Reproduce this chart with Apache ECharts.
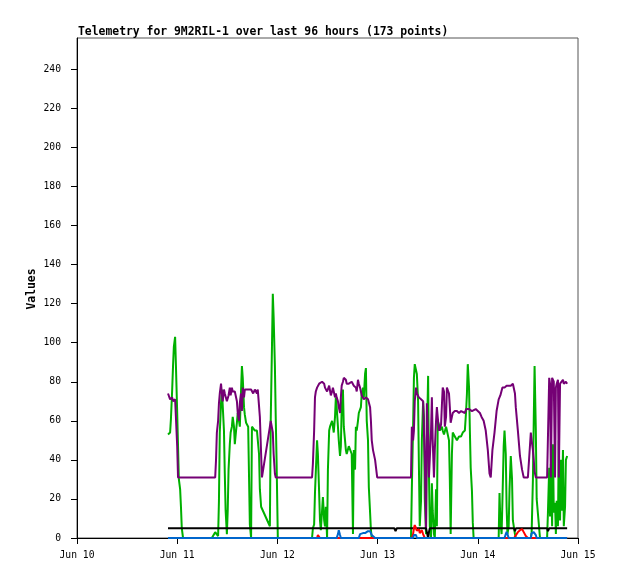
<!DOCTYPE html>
<html><head><meta charset="utf-8">
<script src="https://cdn.jsdelivr.net/npm/echarts@6/dist/echarts.min.js"></script>
<style>html,body{margin:0;padding:0;background:#fff}#c{width:618px;height:579px}</style>
</head><body><div id="c"></div>
<script>
// hours since Jun 10 00:00
const times = [21.8,22.3,22.5,22.8,23.0,23.2,23.5,23.7,24.0,24.2,24.4,24.7,24.9,25.1,25.4,26.6,27.8,29.0,30.2,31.4,32.3,33.1,33.3,33.5,33.8,34.0,34.2,34.5,34.7,34.9,35.2,35.4,35.6,35.9,36.1,36.3,36.6,36.8,37.1,37.3,37.6,37.8,38.1,38.3,38.5,38.8,39.0,39.3,39.5,39.7,40.0,40.2,40.5,41.0,41.4,41.7,41.9,42.2,42.6,43.1,43.3,43.6,43.8,44.1,44.3,46.2,46.4,46.7,46.9,47.1,47.4,47.6,47.8,48.1,49.6,50.8,52.0,53.2,54.4,55.6,56.3,56.5,56.8,57.0,57.2,57.5,57.7,58.0,58.2,58.4,58.7,58.9,59.2,59.4,59.6,59.9,60.1,60.4,60.6,60.8,61.1,61.3,61.5,61.8,62.0,62.2,62.5,62.7,63.0,63.2,63.4,63.7,63.9,64.2,64.4,64.6,64.9,65.1,65.4,65.8,66.1,66.3,66.6,66.8,67.0,67.3,67.5,67.8,68.0,68.2,68.5,68.7,69.0,69.2,69.4,69.7,69.9,70.2,70.4,70.6,70.9,71.4,71.9,73.0,74.2,75.4,76.6,77.8,79.0,80.0,80.2,80.5,80.7,80.9,81.2,81.4,81.7,81.9,82.1,82.4,82.6,82.9,83.1,83.3,83.6,83.8,84.1,84.3,84.5,84.8,85.0,85.2,85.5,85.7,86.0,86.2,86.4,86.7,86.9,87.2,87.4,87.6,87.9,88.1,88.4,88.6,88.8,89.1,89.3,89.5,89.8,90.0,90.5,91.0,91.5,92.0,92.4,92.9,93.2,93.4,93.6,93.9,94.1,94.3,94.6,94.8,95.0,95.5,96.0,96.5,96.9,97.4,97.9,98.4,98.8,99.1,99.5,100.0,100.5,101.0,101.2,101.4,101.7,101.9,102.2,102.4,102.7,102.9,103.1,103.4,103.6,103.9,104.2,104.4,104.9,105.1,105.6,106.1,106.6,107.0,108.0,108.4,108.7,108.9,109.2,109.4,109.6,109.9,110.1,110.9,112.1,112.6,112.8,113.1,113.3,113.5,113.8,114.0,114.2,114.5,114.7,114.9,115.2,115.4,115.7,115.9,116.1,116.4,116.6,116.9,117.1,117.4];
const purple = [74,71,72,72,70,70,71,71,47,31,31,31,31,31,31,31,31,31,31,31,31,31,40,54,60,69,74,79,74,70,76,74,73,70,69,73,77,73,77,75,74,75,76,70,64,60,69,74,65,77,72,76,76,76,76,76,76,74,76,74,76,76,62,43,31,57,60,61,54,43,33,31,31,31,31,31,31,31,31,31,31,38,55,72,75,77,78,79,79,79,80,80,79,77,76,75,76,78,77,73,75,77,75,72,74,72,70,67,64,72,78,80,82,81,81,79,78,79,80,80,79,78,78,77,75,81,79,77,75,73,73,71,71,72,72,71,70,67,60,50,45,40,31,31,31,31,31,31,31,31,57,50,55,70,77,74,74,72,71,71,71,70,71,40,4,69,52,31,31,55,72,50,31,45,60,67,62,55,55,58,68,77,75,57,62,77,76,74,67,59,62,64,65,65,64,65,65,64,66,66,66,66,66,65,65,66,66,66,65,64,62,60,55,45,33,31,45,54,65,71,72,73,74,77,77,77,77,78,79,78,78,78,77,79,74,67,55,42,35,31,31,31,54,50,45,40,34,31,31,31,31,31,31,82,79,31,82,81,80,31,77,79,81,31,79,79,80,81,79,78,80,79];
const green = [53,54,61,76,88,98,103,88,64,47,30,25,16,5,0,0,0,0,0,0,0,3,4,4,1,19,54,69,76,68,55,33,14,2,14,35,48,54,57,62,57,48,55,59,64,60,57,76,88,82,67,63,59,57,7,0,57,56,55,55,54,43,25,16,15,6,60,98,125,113,88,62,40,0,0,0,0,0,0,0,0,5,7,23,23,50,43,23,9,4,14,21,9,6,16,0,35,55,57,57,60,57,54,62,72,67,57,50,42,47,67,76,57,50,45,43,42,47,48,43,2,45,35,57,55,60,64,65,67,74,77,72,84,87,60,50,26,13,4,0,0,0,0,0,0,0,0,0,0,0,25,57,82,89,90,84,70,36,6,19,50,70,62,20,2,50,83,33,6,0,28,14,2,0,25,6,60,58,55,56,57,55,53,52,57,55,55,50,30,2,43,54,52,50,52,52,54,55,65,74,89,77,55,36,24,8,0,0,0,0,0,0,0,0,0,0,0,0,0,0,23,9,2,19,47,55,43,16,2,6,25,42,30,9,2,0,0,0,0,0,0,0,0,3,30,60,88,55,20,0,0,0,13,36,11,38,6,48,13,18,2,19,6,50,9,40,14,45,6,16,40,42,0];
const blackTimes = [21.8,76.0,76.3,76.6,83.6,83.8,84.1,84.3,84.5,84.8,85.0,104.7,104.9,105.1,112.6,112.8,113.1,117.4];
const blackVals  = [5,5,3.5,5,5,3,0,3,5,4,5,5,3.5,5,5,3.5,5,5];
const redTimes = [21.8,57.5,57.7,58.0,58.2,62.7,63.0,63.2,67.7,67.9,68.2,70.4,70.6,70.9,80.2,80.5,80.7,80.9,81.2,81.4,81.7,81.9,82.1,82.4,82.6,82.9,83.1,83.3,90.3,90.5,90.7,102.2,102.4,102.7,104.7,105.1,105.6,106.1,106.6,107.0,107.5,108.0,112.0,112.1,112.3,117.4];
const redVals  = [0,0,1.5,1,0,0,0.7,0,0,1,0,0,1,0,0,2,5,6.6,5,3.7,4,4.5,2.5,3,4,2,1,0,0,1,0,0,0.5,0,0,1,3,4,4.6,3,1,0,0,1,0,0];
const blueTimes = [21.8,62.2,62.5,62.7,63.0,63.2,67.5,67.8,68.0,68.2,68.5,68.7,69.0,69.2,69.4,69.7,69.9,70.2,70.4,70.6,70.9,71.4,80.5,80.7,80.9,81.2,81.4,102.4,102.7,102.9,103.1,103.4,108.7,108.9,109.2,109.4,109.6,109.9,110.1,117.4];
const blueVals  = [0,0,2,4,1.5,0,0,2,1.5,2,2.5,2,2.5,3,3.2,3.5,4,3.5,2.5,1.5,0.5,0,0,1.5,2,1.5,0,0,2,3.2,2,0,0,2.5,3.2,3,3.5,1.5,0,0];
const yTicks = [0,20,40,60,80,100,120,140,160,180,200,220,240];
const xTicks = [0,24,48,72,96,120];
const xTickLabels = ['Jun 10','Jun 11','Jun 12','Jun 13','Jun 14','Jun 15'];
const titleText = 'Telemetry for 9M2RIL-1 over last 96 hours (173 points)';
const yAxisTitle = 'Values';

const mono = 'DejaVu Sans Mono';
const pair = (t, v) => t.map((x, i) => [x, v[i]]);
const mk = (name, data, color, z) => ({
  name, type: 'line', data, showSymbol: false, symbol: 'none', z,
  lineStyle: { color, width: 2 }, itemStyle: { color }, animation: false
});

const chart = echarts.init(document.getElementById('c'), null, { renderer: 'canvas' });
chart.setOption({
  animation: false,
  backgroundColor: '#fff',
  title: { text: titleText, left: 73, top: 22,
    textStyle: { fontFamily: mono, fontSize: 11.4, fontWeight: 'bold', color: '#000' } },
  graphic: [{
    type: 'text', x: 32, y: 289, rotation: Math.PI / 2,
    style: { text: yAxisTitle, fill: '#000', font: 'bold 11.4px "DejaVu Sans Mono"',
      textAlign: 'center', textVerticalAlign: 'middle' }
  }],
  grid: { left: 77, right: 40, top: 38, bottom: 41, show: true, borderColor: '#555', borderWidth: 1, backgroundColor: 'transparent' },
  xAxis: {
    type: 'value', min: 0, max: 120, interval: 24,
    axisLine: { show: true, lineStyle: { color: '#000', width: 1 } },
    axisTick: { show: true, length: 6, lineStyle: { color: '#000' } },
    splitLine: { show: false },
    axisLabel: { margin: 12, color: '#000', fontFamily: mono, fontSize: 9.7,
      formatter: v => xTickLabels[xTicks.indexOf(v)] }
  },
  yAxis: {
    type: 'value', min: 0, max: 256,
    axisLine: { show: true, lineStyle: { color: '#000', width: 1 } },
    axisTick: { show: true, length: 6, customValues: yTicks, lineStyle: { color: '#000' } },
    splitLine: { show: false },
    axisLabel: { customValues: yTicks, margin: 16, color: '#000', fontFamily: mono, fontSize: 9.7 }
  },
  series: [
    mk('green', pair(times, green), '#00b000', 1),
    mk('purple', pair(times, purple), '#750075', 2),
    mk('black', pair(blackTimes, blackVals), '#000000', 3),
    mk('red', pair(redTimes, redVals), '#ff0000', 4),
    mk('blue', pair(blueTimes, blueVals), '#0066cc', 5)
  ]
});
</script></body></html>
